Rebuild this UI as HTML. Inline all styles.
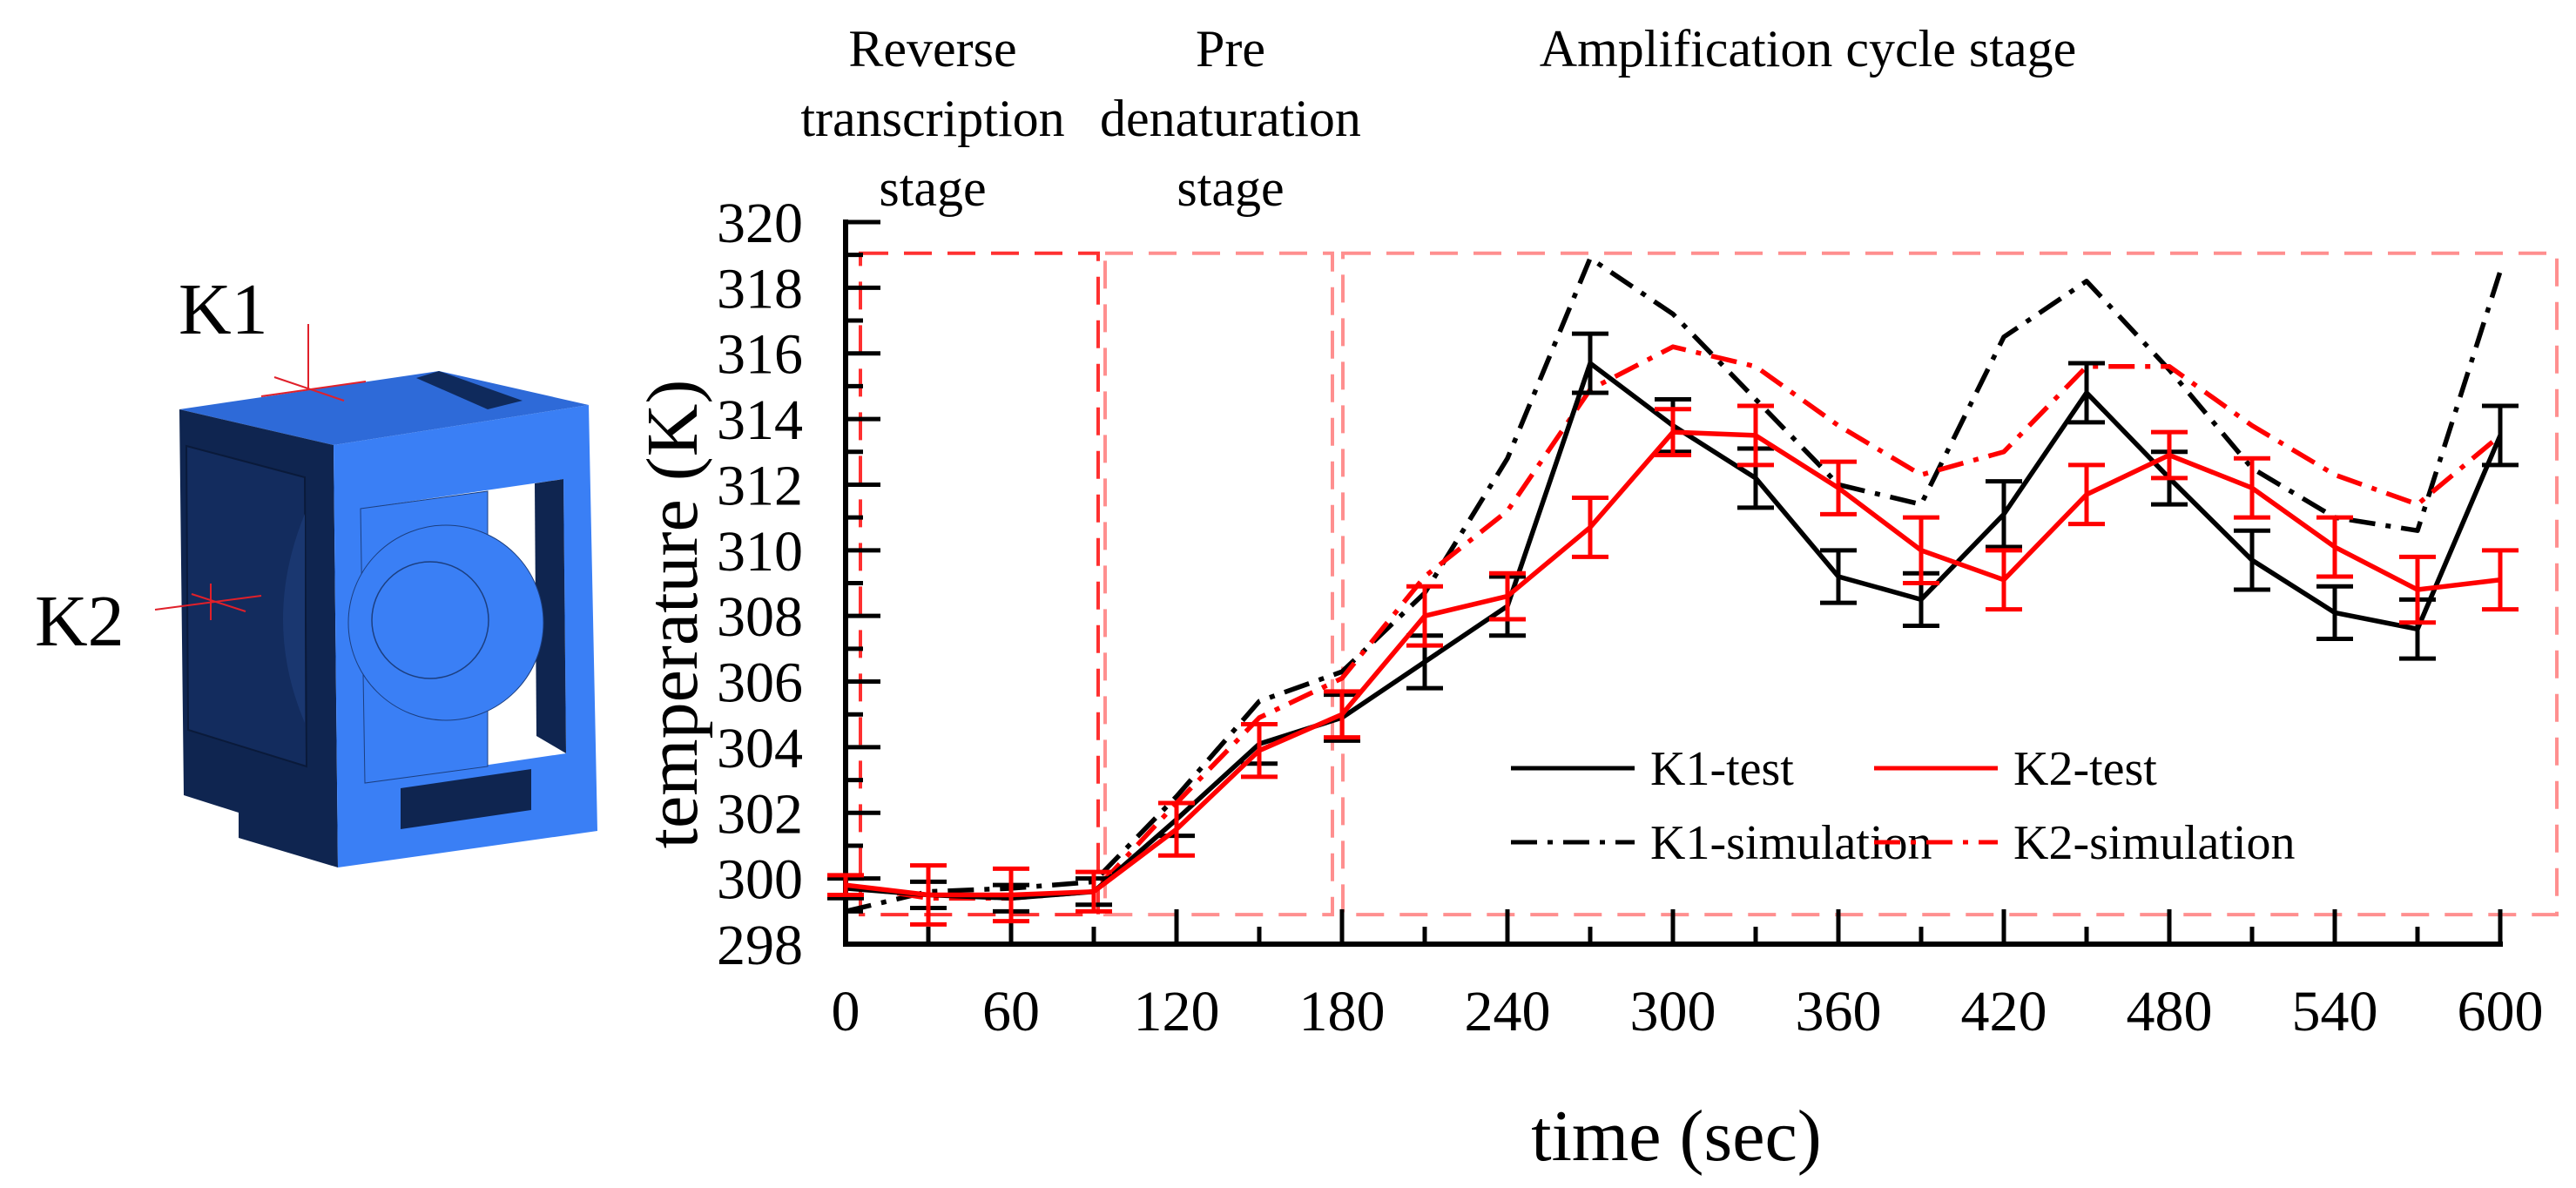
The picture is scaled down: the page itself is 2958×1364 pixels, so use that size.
<!DOCTYPE html>
<html><head><meta charset="utf-8"><style>
html,body{margin:0;padding:0;background:#fff;}
svg{display:block;font-family:"Liberation Serif",serif;}
</style></head><body>
<svg id="fig" width="2958" height="1364" viewBox="0 0 2958 1364" xmlns="http://www.w3.org/2000/svg">
<g>
  <polygon points="206,470 504,426 676,465 383,511" fill="#2e6ad8"/>
  <polygon points="478,434 504,426 600,460 560,470" fill="#0f2a5c"/>
  <polygon points="206,470 383,511 388,996 274,962 274,933 211,913" fill="#0f2550"/>
  <polygon points="214,512 350,548 352,880 216,838" fill="#132c5e" stroke="#0a1a3a" stroke-width="2"/>
  <path d="M350,590 Q300,712 350,830 Z" fill="#1a3770"/>
  <polygon points="383,511 676,465 686,954 388,996" fill="#3a7ff5"/>
  <polygon points="414,584 647,550 650,865 419,899" fill="#ffffff"/>
  <polygon points="614,555 647,550 650,865 616,845" fill="#0f2550"/>
  <polygon points="414,584 560,564 560,880 419,899" fill="#3a7ff5" stroke="#1c3f80" stroke-width="1"/>
  <circle cx="512" cy="715" r="112" fill="#3a7ff5" stroke="#1c3f80" stroke-width="1"/>
  <circle cx="494" cy="712" r="67" fill="none" stroke="#1c3f80" stroke-width="1.5"/>
  <polygon points="460,905 610,883 610,930 460,952" fill="#0f2550"/>
  <g stroke="#e0202a" stroke-width="2">
    <line x1="354" y1="372" x2="354" y2="447"/><line x1="315" y1="433" x2="395" y2="460"/><line x1="300" y1="455" x2="420" y2="438"/>
  </g>
  <g stroke="#e0202a" stroke-width="2">
    <line x1="178" y1="700" x2="300" y2="684"/><line x1="242" y1="670" x2="242" y2="712"/><line x1="220" y1="682" x2="282" y2="702"/>
  </g>
  <text x="205" y="383" font-size="84">K1</text>
  <text x="40" y="741" font-size="84">K2</text>
</g>
<g id="chart"></g>
</svg>
<script>
const times = [0,30,60,90,120,150,180,210,240,270,300,330,360,390,420,450,480,510,540,570,600];
const k1Test = [299.7,299.5,299.4,299.6,301.8,304.1,304.9,306.6,308.3,315.7,313.8,312.2,309.2,308.5,311.1,314.8,312.2,309.7,308.1,307.6,313.5];
const k1Err  = [0.3,0.4,0.4,0.4,0.5,0.6,0.7,0.8,0.9,0.9,0.8,0.9,0.8,0.8,1.0,0.9,0.8,0.9,0.8,0.9,0.9];
const k2Test = [299.8,299.5,299.5,299.6,301.5,303.9,305.0,308.0,308.6,310.7,313.6,313.5,311.9,310.0,309.1,311.7,312.9,311.9,310.1,308.8,309.1];
const k2Err  = [0.3,0.9,0.8,0.6,0.8,0.8,0.7,0.9,0.7,0.9,0.7,0.9,0.8,1.0,0.9,0.9,0.7,0.9,0.9,1.0,0.9];
const k1Sim  = [299.0,299.6,299.7,299.9,302.5,305.4,306.3,308.7,312.8,318.9,317.2,314.6,312.0,311.4,316.5,318.2,315.5,312.5,311.0,310.6,318.5];
const k2Sim  = [299.8,299.4,299.4,299.6,302.3,304.9,306.1,309.2,311.2,314.9,316.2,315.6,313.8,312.3,313.0,315.6,315.6,313.8,312.3,311.4,313.5];
const xTicks = [0,60,120,180,240,300,360,420,480,540,600];
const yTicks = [298,300,302,304,306,308,310,312,314,316,318,320];

const NS="http://www.w3.org/2000/svg";
const X0=971,X1=2871,Y0=1084,Y1=255;
const xs=t=>X0+(t-0)/(600-0)*(X1-X0);
const ys=v=>Y0-(v-298)/(320-298)*(Y0-Y1);
const g=document.getElementById('chart');
function mk(tag,attrs,parent){const e=document.createElementNS(NS,tag);for(const k in attrs)e.setAttribute(k,attrs[k]);(parent||g).appendChild(e);return e;}

const stg=mk('g',{});


const boxTop=ys(319.05),boxBot=ys(298.9);
[[988,1261],[1269,1530],[1542,2936]].forEach((b,i)=>{
  const r=mk('rect',{x:b[0],y:boxTop,width:b[1]-b[0],height:boxBot-boxTop,fill:'none',stroke:i===0?'#ff3030':'#ff8f8f','stroke-width':4,'stroke-dasharray':'32,18'},stg);
  
  
});

const ax=mk('g',{stroke:'#000','stroke-width':6,fill:'none'});


mk('polyline',{points:`${X0},${Y1} ${X0},${Y0} ${X1},${Y0}`,'stroke-linecap':'square'},ax);
for(let v=298;v<=320;v++){const big=v%2===0;mk('line',{x1:X0,x2:X0+(big?40:20),y1:ys(v),y2:ys(v),'stroke-width':5},ax);}
for(let t=0;t<=600;t+=30){const big=t%60===0;mk('line',{x1:xs(t),x2:xs(t),y1:Y0,y2:Y0-(big?40:20),'stroke-width':5},ax);}
yTicks.forEach(v=>{const e=mk('text',{x:922,y:ys(v)+23,'font-size':66,'text-anchor':'end',fill:'#000'});e.textContent=v;
  
  });
xTicks.forEach(t=>{const e=mk('text',{x:xs(t),y:1183,'font-size':66,'text-anchor':'middle',fill:'#000'});e.textContent=t;
  
  });
const xt=mk('text',{x:1925,y:1332,'font-size':84,'text-anchor':'middle'});xt.textContent='time (sec)';


const yt=mk('text',{x:0,y:0,'font-size':84,'text-anchor':'middle',transform:'translate(800,705) rotate(-90)'});yt.textContent='temperature (K)';



[[1071,['Reverse','transcription','stage']],[1413,['Pre','denaturation','stage']],[2076,['Amplification cycle stage']]].forEach((s,i)=>{
  s[1].forEach((ln,j)=>{const e=mk('text',{x:s[0],y:76+j*80,'font-size':60,'text-anchor':'middle'});e.textContent=ln;
    
    });
});

function series(vals,color,dash,name){
  const p=mk('polyline',{points:times.map((t,i)=>xs(t)+','+ys(vals[i])).join(' '),fill:'none',stroke:color,'stroke-width':5.5,'stroke-dasharray':dash||'none','stroke-linejoin':'round'});
  
  
}
function errs(vals,err,color,name){
  const eg=mk('g',{stroke:color,'stroke-width':5});
  
  
  times.forEach((t,i)=>{const x=xs(t),a=ys(vals[i]+err[i]),b=ys(vals[i]-err[i]);
    mk('line',{x1:x,x2:x,y1:a,y2:b},eg);mk('line',{x1:x-21,x2:x+21,y1:a,y2:a},eg);mk('line',{x1:x-21,x2:x+21,y1:b,y2:b},eg);});
}
series(k1Sim,'#000','30,12,6,12','k1-simulation-line');
series(k2Sim,'#ff0000','30,12,6,12','k2-simulation-line');
series(k1Test,'#000',null,'k1-test-line');
errs(k1Test,k1Err,'#000','k1-test-error-bars');
series(k2Test,'#ff0000',null,'k2-test-line');
errs(k2Test,k2Err,'#ff0000','k2-test-error-bars');

const lg=mk('g',{});


[[1735,882,'#000',null,'K1-test'],[2152,882,'#ff0000',null,'K2-test'],[1735,967,'#000','30,12,6,12','K1-simulation'],[2152,967,'#ff0000','30,12,6,12','K2-simulation']].forEach(l=>{
  const ent=mk('g',{},lg);
  
  
  mk('line',{x1:l[0],x2:l[0]+142,y1:l[1],y2:l[1],stroke:l[2],'stroke-width':5,'stroke-dasharray':l[3]||'none'},ent);
  const t=mk('text',{x:l[0]+160,y:l[1]+19,'font-size':56},ent);t.textContent=l[4];
});
</script>
</body></html>
